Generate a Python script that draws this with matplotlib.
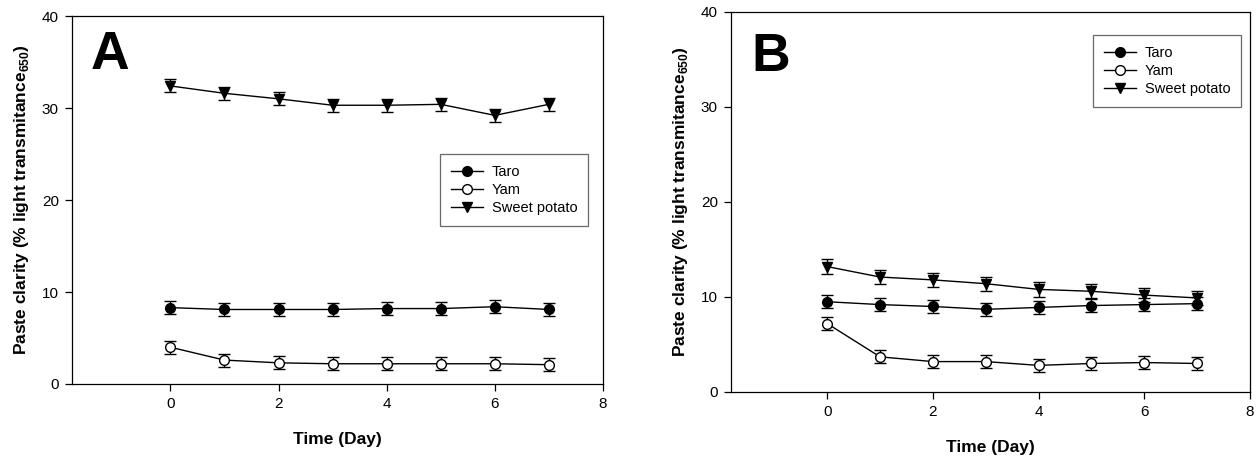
import numpy as np
import matplotlib.pyplot as plt
from matplotlib.lines import Line2D

plt.rcParams['font.family'] = ['Liberation Sans', 'DejaVu Sans']

days = [0, 1, 2, 3, 4, 5, 6, 7]
series_names = ['Taro', 'Yam', 'Sweet potato']

# panel A
taro_a = [8.3, 8.1, 8.1, 8.1, 8.2, 8.2, 8.4, 8.1]
yam_a = [4.0, 2.6, 2.3, 2.2, 2.2, 2.2, 2.2, 2.1]
sweet_a = [32.4, 31.6, 31.0, 30.3, 30.3, 30.4, 29.2, 30.4]
err_a = [0.7, 0.7, 0.7]

# panel B
taro_b = [9.5, 9.2, 9.0, 8.7, 8.9, 9.1, 9.2, 9.3]
yam_b = [7.2, 3.7, 3.2, 3.2, 2.8, 3.0, 3.1, 3.0]
sweet_b = [13.2, 12.1, 11.8, 11.4, 10.8, 10.6, 10.2, 9.9]
err_b = [0.7, 0.7, 0.75]

styles = [dict(marker='o', mfc='black'),
          dict(marker='o', mfc='white'),
          dict(marker='v', mfc='black')]

fig = plt.figure(figsize=(12.58, 4.59), dpi=100)
ax_a = fig.add_axes([0.0572, 0.1634, 0.4221, 0.8017])
ax_b = fig.add_axes([0.5811, 0.1460, 0.4125, 0.8279])


def draw_panel(ax, data, errs, letter, letter_xy, legend_loc):
    handles = []
    for name, vals, e, st in zip(series_names, data, errs, styles):
        ax.errorbar(days, vals, yerr=e, color='black', lw=1.0,
                    marker=st['marker'], mfc=st['mfc'], mec='black',
                    ms=7, mew=1.0, capsize=4, elinewidth=1.0,
                    capthick=1.0)
        handles.append(Line2D([], [], color='black', lw=1.0,
                              marker=st['marker'], mfc=st['mfc'],
                              mec='black', ms=7, mew=1.0, label=name))
    ax.set_xlim(-1.82, 8)
    ax.set_ylim(0, 40)
    ax.set_xticks([0, 2, 4, 6, 8])
    ax.set_yticks([0, 10, 20, 30, 40])
    ax.tick_params(direction='out', length=5, width=0.9, labelsize=11,
                   pad=4.5)
    for s in ax.spines.values():
        s.set_linewidth(0.9)
    ax.set_xlabel('Time (Day)', fontsize=12.5, fontweight='bold',
                  labelpad=15)
    ax.set_ylabel(r'Paste clarity (% light transmitance$_{\mathregular{650}}$)',
                  fontsize=12.5, fontweight='bold', labelpad=8)
    ax.text(letter_xy[0], letter_xy[1], letter, fontsize=38.5,
            fontweight='bold', va='baseline', ha='left')
    leg = ax.legend(handles=handles, loc='upper left',
                    bbox_to_anchor=legend_loc, borderaxespad=0,
                    fontsize=10.5, frameon=True, fancybox=False,
                    borderpad=0.75, handlelength=2.2, handletextpad=0.6,
                    labelspacing=0.27)
    leg.get_frame().set_edgecolor('#444444')
    leg.get_frame().set_linewidth(0.9)


draw_panel(ax_a, [taro_a, yam_a, sweet_a], err_a, 'A', (-1.47, 34.2),
           (0.693, 0.625))
draw_panel(ax_b, [taro_b, yam_b, sweet_b], err_b, 'B', (-1.44, 33.8),
           (0.6975, 0.939))

fig.savefig('out.png', dpi=100)
